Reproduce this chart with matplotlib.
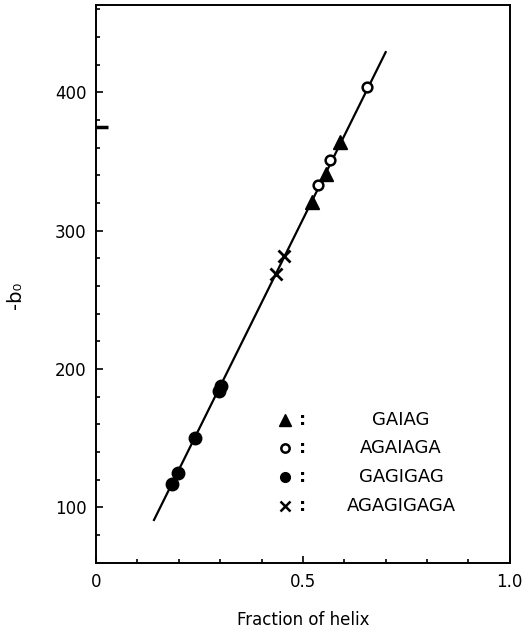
import matplotlib
matplotlib.use("Agg")
import matplotlib.pyplot as plt
from matplotlib.ticker import MultipleLocator

# data
tri_x = [0.521, 0.556, 0.589]
tri_y = [321, 341, 364]
ocirc_x = [0.537, 0.565, 0.656]
ocirc_y = [333, 351, 404]
fcirc_x = [0.184, 0.199, 0.239, 0.296, 0.302]
fcirc_y = [117, 125, 150, 184, 188]
cross_x = [0.436, 0.455]
cross_y = [269, 282]
fit_x = [0.140, 0.700]
fit_y = [91, 429]

legend_labels = ["GAIAG", "AGAIAGA", "GAGIGAG", "AGAGIGAGA"]

plt.rcParams["font.family"] = ["DejaVu Sans"]

fig = plt.figure(figsize=(5.25, 6.36), dpi=100)
ax = fig.add_axes([0.183, 0.115, 0.788, 0.877])

ax.plot(fit_x, fit_y, color="black", lw=1.6, zorder=2)
ax.plot(tri_x, tri_y, "^", color="black", ms=10, zorder=3)
ax.plot(ocirc_x, ocirc_y, "o", mfc="white", mec="black", mew=1.8, ms=7, zorder=3)
ax.plot(fcirc_x, fcirc_y, "o", color="black", ms=9, zorder=3)
ax.plot(cross_x, cross_y, "x", color="black", ms=9, mew=2, zorder=3)

# small arrow mark on left axis
ax.plot([0, 0.028], [375, 375], color="black", lw=2.5, solid_capstyle="butt",
        clip_on=False)

# legend drawn as text
styles = [
    dict(marker="^", color="black", ms=9, ls="none"),
    dict(marker="o", mfc="white", mec="black", mew=1.8, ms=6, ls="none"),
    dict(marker="o", color="black", ms=7, ls="none"),
    dict(marker="x", color="black", ms=7, mew=1.8, ls="none"),
]
rows = [0.256, 0.206, 0.154, 0.102]
for lab, st, ry in zip(legend_labels, styles, rows):
    ax.plot([0.457], [ry], transform=ax.transAxes, **st)
    ax.text(0.50, ry, ":", transform=ax.transAxes, ha="center", va="center",
            fontsize=13, fontweight="bold")
    ax.text(0.737, ry, lab, transform=ax.transAxes, ha="center", va="center",
            fontsize=13)

ax.set_xlim(0, 1.0)
ax.set_ylim(60, 463)
ax.set_xticks([0, 0.5, 1.0])
ax.set_xticklabels(["0", "0.5", "1.0"])
ax.set_yticks([100, 200, 300, 400])
ax.xaxis.set_minor_locator(MultipleLocator(0.1))
ax.yaxis.set_minor_locator(MultipleLocator(20))
ax.tick_params(which="both", direction="in", top=False, right=False,
               labelsize=12, width=1.2)
ax.tick_params(which="major", length=5, pad=7)
ax.tick_params(which="minor", length=3)
for s in ax.spines.values():
    s.set_linewidth(1.4)

fig.text(0.577, 0.025, "Fraction of helix", ha="center", va="center", fontsize=12)
fig.text(0.03, 0.535, "-b\u2080", ha="center", va="center", fontsize=14,
         rotation=90)

fig.savefig("out.png", dpi=100)
